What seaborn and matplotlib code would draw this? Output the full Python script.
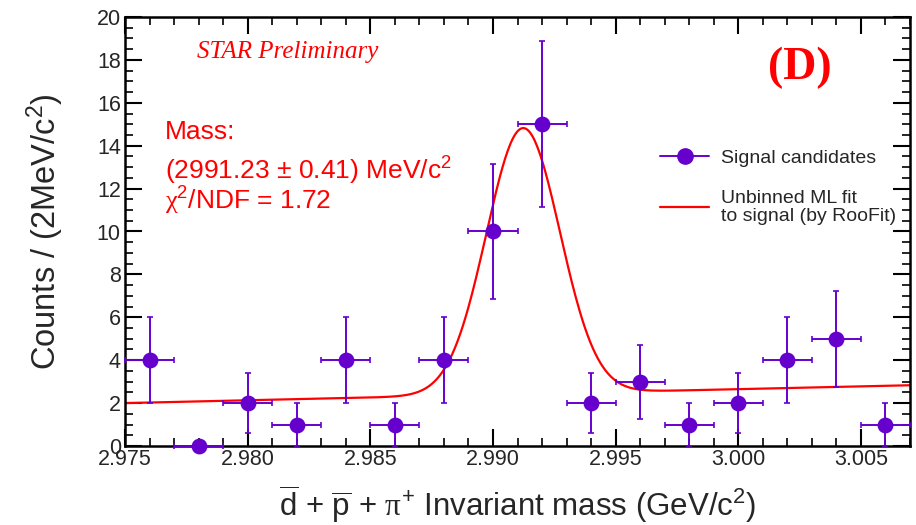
import numpy as np
import pandas as pd
import matplotlib
matplotlib.use("Agg")
import matplotlib.pyplot as plt
from matplotlib.ticker import MultipleLocator, FormatStrFormatter
from matplotlib.lines import Line2D
import seaborn as sns

# ---- data ----
mass_centers = [2.976, 2.978, 2.980, 2.982, 2.984, 2.986, 2.988, 2.990,
                2.992, 2.994, 2.996, 2.998, 3.000, 3.002, 3.004, 3.006]
counts = [4, 0, 2, 1, 4, 1, 4, 10, 15, 2, 3, 1, 2, 4, 5, 1]
count_err = [2.0, 0.0, 1.41, 1.0, 2.0, 1.0, 2.0, 3.16, 3.87, 1.41, 1.73,
             1.0, 1.41, 2.0, 2.24, 1.0]
bin_half_width = 0.001

# fit model parameters (Gaussian + linear background)
fit_mean = 2.99123
fit_sigma = 0.00150
fit_amp = 12.4
bkg_at_lo = 2.0
bkg_slope = 26.0

x_lo, x_hi = 2.975, 3.007

sns.set_theme(style="white")
plt.rcParams['font.family'] = ['Liberation Sans', 'DejaVu Sans']
plt.rcParams['mathtext.fontset'] = 'custom'
plt.rcParams['mathtext.rm'] = 'Liberation Sans'
plt.rcParams['mathtext.it'] = 'Liberation Sans:italic'
plt.rcParams['mathtext.sf'] = 'Liberation Serif'

purple = '#6600cc'
red = '#ff0000'

fig = plt.figure(figsize=(9.16, 5.25), dpi=100)
ax = fig.add_axes([125/916, 1-446/525, (910-125)/916, (446-17)/525])

df = pd.DataFrame({'mass': mass_centers, 'counts': counts, 'err': count_err})

# fit curve
xf = np.linspace(x_lo, x_hi, 600)
yf = bkg_at_lo + bkg_slope*(xf - x_lo) + fit_amp*np.exp(-0.5*((xf - fit_mean)/fit_sigma)**2)
fit_df = pd.DataFrame({'mass': xf, 'fit': yf})
sns.lineplot(data=fit_df, x='mass', y='fit', ax=ax, color=red, lw=1.6, zorder=2)

ax.errorbar(df['mass'], df['counts'], yerr=df['err'], xerr=bin_half_width,
            fmt='none', ecolor=purple, elinewidth=1.4, capsize=2.5, capthick=1.2,
            zorder=3, clip_on=False)
sns.scatterplot(data=df, x='mass', y='counts', ax=ax, color=purple, s=130,
                edgecolor=purple, linewidth=0, zorder=4, clip_on=False)

ax.set_xlim(x_lo, x_hi)
ax.set_ylim(0, 20)

ax.xaxis.set_major_locator(MultipleLocator(0.005))
ax.xaxis.set_minor_locator(MultipleLocator(0.001))
ax.xaxis.set_major_formatter(FormatStrFormatter('%.3f'))
ax.yaxis.set_major_locator(MultipleLocator(2))
ax.yaxis.set_minor_locator(MultipleLocator(0.5))

ax.tick_params(which='both', direction='in', top=True, right=True,
               bottom=True, left=True, color='black')
ax.tick_params(which='major', length=12, width=1.5, labelsize=15.5, pad=3)
ax.tick_params(which='minor', length=6, width=1.2)
ax.tick_params(axis='x', which='major', pad=2)
for sp in ax.spines.values():
    sp.set_color('black')
    sp.set_linewidth(1.8)

ax.set_ylabel(r'Counts / (2MeV/c$^{2}$)', fontsize=23.5, labelpad=22)
ax.set_xlabel(r'$\overline{\rm d}$ + $\overline{\rm p}$ + $\mathsf{\pi}^{+}$ Invariant mass (GeV/c$^{2}$)',
              fontsize=22.5, labelpad=10)

ax.text(0.092, 0.918, 'STAR Preliminary', transform=ax.transAxes, color=red,
        fontsize=18, family=['Liberation Serif'], style='italic', va='center')
ax.text(0.859, 0.882, '(D)', transform=ax.transAxes, color=red,
        fontsize=33, family=['Liberation Serif'], weight='bold', va='center', ha='center')

ax.text(0.051, 0.731, 'Mass:', transform=ax.transAxes, color=red, fontsize=19, va='center')
ax.text(0.051, 0.642, '(2991.23 ± 0.41) MeV/c$^{2}$', transform=ax.transAxes, color=red,
        fontsize=19, va='center')
ax.text(0.051, 0.571, r'$\mathsf{\chi}^{2}$/NDF = 1.72', transform=ax.transAxes, color=red,
        fontsize=19, va='center')

# legend (ROOT style, drawn manually)
handles = [
    Line2D([0], [0], color=purple, lw=1.4, marker='o', markersize=11,
           markerfacecolor=purple, markeredgecolor=purple),
    Line2D([0], [0], color=red, lw=1.6),
]
labels = ['Signal candidates', 'Unbinned ML fit\nto signal (by RooFit)']
leg = ax.legend(handles, labels, loc='upper left', bbox_to_anchor=(0.672, 0.71),
                frameon=False, fontsize=14, handlelength=2.5, handletextpad=0.6,
                labelspacing=1.2, borderaxespad=0)
for t in leg.get_texts():
    t.set_linespacing(1.1)

fig.savefig('out.png', dpi=100)
